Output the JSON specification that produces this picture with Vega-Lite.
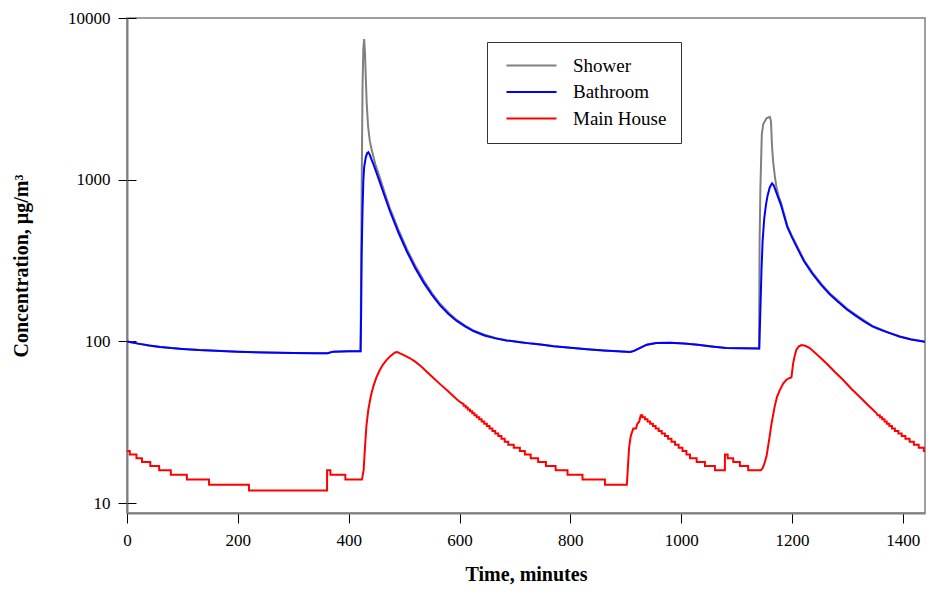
{
  "$schema": "https://vega.github.io/schema/vega-lite/v6.json",
  "width": 798,
  "height": 495,
  "autosize": {"type": "none"},
  "padding": {"left": 127, "top": 18, "right": 5, "bottom": 81},
  "background": "white",
  "config": {
    "font": "Liberation Serif",
    "view": {"stroke": "#808080", "strokeWidth": 1.5},
    "axis": {
      "grid": false,
      "labelFont": "Liberation Serif",
      "labelFontSize": 17,
      "labelColor": "#000000",
      "titleFont": "Liberation Serif",
      "titleFontSize": 20,
      "titleFontWeight": "bold",
      "titleColor": "#000000",
      "domainColor": "#808080",
      "domainWidth": 2,
      "tickColor": "#000000",
      "tickWidth": 1
    },
    "legend": {
      "labelFont": "Liberation Serif",
      "labelFontSize": 19,
      "labelColor": "#000000"
    }
  },
  "datasets": {
    "shower": [
      {"t":0,"c":100},{"t":10,"c":98.5},{"t":20,"c":97},{"t":40,"c":94.5},{"t":60,"c":92.5},{"t":80,"c":91},{"t":100,"c":90},{"t":130,"c":88.5},{"t":160,"c":87.5},{"t":200,"c":86.5},{"t":250,"c":85.5},{"t":300,"c":84.8},{"t":340,"c":84.5},{"t":362,"c":84.5},{"t":372,"c":86.5},{"t":400,"c":87},{"t":421.5,"c":87},
      {"t":422.5,"c":300},{"t":423.5,"c":900},{"t":425,"c":3700},{"t":426.5,"c":6500},{"t":428,"c":7400},{"t":429.5,"c":6000},{"t":431,"c":4200},{"t":432.5,"c":3000},{"t":435,"c":2150},{"t":438,"c":1750},{"t":441.5,"c":1530},{"t":448,"c":1250},{"t":456,"c":1040},{"t":465,"c":830},{"t":474.5,"c":665},{"t":490,"c":490},{"t":505,"c":373},{"t":520,"c":295},{"t":535,"c":240},{"t":550,"c":200},{"t":565,"c":171},{"t":580,"c":151},{"t":595,"c":136},{"t":610,"c":125.5},{"t":625,"c":117},{"t":645,"c":110},{"t":665,"c":105},{"t":685,"c":101.5},
      {"t":710,"c":99},{"t":730,"c":97},{"t":750,"c":95.5},{"t":770,"c":93.5},{"t":800,"c":91.5},{"t":830,"c":89.5},{"t":860,"c":88},{"t":885,"c":87},{"t":908,"c":86},{"t":915,"c":87.5},{"t":925,"c":91},{"t":938,"c":95.5},{"t":955,"c":97.8},{"t":980,"c":98.3},{"t":1005,"c":97.3},{"t":1030,"c":95.5},{"t":1055,"c":93.2},{"t":1081,"c":91.2},{"t":1110,"c":90.8},{"t":1140.5,"c":90.5},
      {"t":1141.5,"c":400},{"t":1143,"c":900},{"t":1145.5,"c":1900},{"t":1148,"c":2200},{"t":1154,"c":2400},{"t":1160,"c":2450},{"t":1162,"c":2300},{"t":1164,"c":1600},{"t":1166,"c":1300},{"t":1169,"c":1050},{"t":1172,"c":900},{"t":1176,"c":790},{"t":1180,"c":725},{"t":1191.6,"c":520},{"t":1200,"c":450},{"t":1210,"c":384},{"t":1222,"c":318},{"t":1237,"c":267},{"t":1253,"c":227},{"t":1268,"c":199},{"t":1284,"c":178},{"t":1299,"c":160},{"t":1314,"c":147},{"t":1330,"c":135},{"t":1345,"c":125},{"t":1360,"c":119},{"t":1375,"c":113.5},{"t":1395,"c":107.5},{"t":1415,"c":103.3},{"t":1440,"c":99.5}
    ],
    "bath": [
      {"t":0,"c":100},{"t":10,"c":98.5},{"t":20,"c":97},{"t":40,"c":94.5},{"t":60,"c":92.5},{"t":80,"c":91},{"t":100,"c":90},{"t":130,"c":88.5},{"t":160,"c":87.5},{"t":200,"c":86.5},{"t":250,"c":85.5},{"t":300,"c":84.8},{"t":340,"c":84.5},{"t":362,"c":84.5},{"t":372,"c":86.5},{"t":400,"c":87},{"t":421.5,"c":87},
      {"t":422.5,"c":150},{"t":423.5,"c":350},{"t":425,"c":650},{"t":426.5,"c":990},{"t":428,"c":1200},{"t":431,"c":1380},{"t":433.5,"c":1460},{"t":435.5,"c":1480},{"t":438,"c":1430},{"t":441,"c":1340},{"t":445,"c":1240},{"t":450,"c":1110},{"t":456,"c":970},{"t":465,"c":790},{"t":474.5,"c":640},{"t":490,"c":470},{"t":505,"c":360},{"t":520,"c":285},{"t":535,"c":232},{"t":550,"c":195},{"t":565,"c":167},{"t":580,"c":148},{"t":595,"c":134},{"t":610,"c":124},{"t":625,"c":116},{"t":645,"c":109},{"t":665,"c":104.5},{"t":685,"c":101.5},
      {"t":710,"c":99},{"t":730,"c":97},{"t":750,"c":95.5},{"t":770,"c":93.5},{"t":800,"c":91.5},{"t":830,"c":89.5},{"t":860,"c":88},{"t":885,"c":87},{"t":908,"c":86},{"t":915,"c":87.5},{"t":925,"c":91},{"t":938,"c":95.5},{"t":955,"c":97.8},{"t":980,"c":98.3},{"t":1005,"c":97.3},{"t":1030,"c":95.5},{"t":1055,"c":93.2},{"t":1081,"c":91.2},{"t":1110,"c":90.8},{"t":1141,"c":90.5},
      {"t":1143,"c":160},{"t":1145,"c":280},{"t":1147,"c":420},{"t":1150,"c":580},{"t":1153,"c":700},{"t":1156,"c":800},{"t":1160,"c":900},{"t":1164,"c":950},{"t":1167,"c":925},{"t":1172,"c":830},{"t":1180,"c":700},{"t":1191.6,"c":510},{"t":1200,"c":440},{"t":1210,"c":375},{"t":1222,"c":312},{"t":1237,"c":262},{"t":1253,"c":223},{"t":1268,"c":196},{"t":1284,"c":175},{"t":1299,"c":158},{"t":1314,"c":145},{"t":1330,"c":133},{"t":1345,"c":124},{"t":1360,"c":118},{"t":1375,"c":113},{"t":1395,"c":107},{"t":1415,"c":103},{"t":1440,"c":99.5}
    ],
    "house": [
      {"t":0,"c":21},{"t":5,"c":21},{"t":5.1,"c":20},{"t":17,"c":20},{"t":17.1,"c":19},{"t":27,"c":19},{"t":27.1,"c":18},{"t":42,"c":18},{"t":42.1,"c":17},{"t":58,"c":17},{"t":58.1,"c":16},{"t":79,"c":16},{"t":79.1,"c":15},{"t":108,"c":15},{"t":108.1,"c":14},{"t":148,"c":14},{"t":148.1,"c":13},{"t":220,"c":13},{"t":220.1,"c":12},{"t":361,"c":12},{"t":361.1,"c":16},{"t":367,"c":16},{"t":367.1,"c":15},{"t":394,"c":15},{"t":394.1,"c":14},{"t":424,"c":14},
      {"t":427,"c":16},{"t":429.4,"c":22},{"t":432,"c":30},{"t":435.4,"c":37.7},{"t":440,"c":46},{"t":444.4,"c":52.6},{"t":450,"c":60},{"t":456.5,"c":66.8},{"t":462,"c":72},{"t":468.6,"c":77},{"t":475,"c":81},{"t":483.6,"c":85.5},{"t":488,"c":86},{"t":492.6,"c":84.5},{"t":498.6,"c":82.7},{"t":510,"c":79},{"t":520,"c":75},{"t":530,"c":70.5},{"t":540,"c":65.5},{"t":553,"c":59.5},{"t":565,"c":54.5},{"t":580,"c":49},{"t":595,"c":44},{"t":602,"c":42},{"t":607.5,"c":41},
      {"t":607.6,"c":40},{"t":611.3,"c":40},{"t":611.4,"c":39},{"t":614.9,"c":39},{"t":615,"c":38},{"t":618.9,"c":38},{"t":619,"c":37},{"t":622.9,"c":37},{"t":623,"c":36},{"t":626.9,"c":36},{"t":627,"c":35},{"t":630.9,"c":35},{"t":631,"c":34},{"t":635.5,"c":34},{"t":635.6,"c":33},{"t":639.9,"c":33},{"t":640,"c":32},{"t":644.5,"c":32},{"t":644.6,"c":31},{"t":649.3,"c":31},{"t":649.4,"c":30},{"t":654.2,"c":30},{"t":654.3,"c":29},{"t":659.3,"c":29},{"t":659.4,"c":28},{"t":664.5,"c":28},{"t":664.6,"c":27},{"t":669.9,"c":27},{"t":670,"c":26},{"t":675.6,"c":26},{"t":675.7,"c":25},{"t":681.5,"c":25},{"t":681.6,"c":24},{"t":687.9,"c":24},{"t":688,"c":23},{"t":697.9,"c":23},{"t":698,"c":22},{"t":708.9,"c":22},{"t":709,"c":21},{"t":717.9,"c":21},{"t":718,"c":20},{"t":728.4,"c":20},{"t":728.5,"c":19},{"t":741.9,"c":19},{"t":742,"c":18},{"t":755.9,"c":18},{"t":756,"c":17},{"t":773.4,"c":17},{"t":773.5,"c":16},{"t":794.9,"c":16},{"t":795,"c":15},{"t":821.9,"c":15},{"t":822,"c":14},{"t":862.4,"c":14},{"t":862.5,"c":13},{"t":902,"c":13},
      {"t":904,"c":17},{"t":906,"c":22},{"t":909,"c":26},{"t":913.6,"c":29},{"t":918.5,"c":29},{"t":921,"c":31},{"t":924.4,"c":32},{"t":927,"c":35},{"t":929.9,"c":35},
      {"t":930,"c":34},{"t":934.6,"c":34},{"t":934.7,"c":33},{"t":939.3,"c":33},{"t":939.4,"c":32},{"t":943.9,"c":32},{"t":944,"c":31},{"t":948.9,"c":31},{"t":949,"c":30},{"t":953.9,"c":30},{"t":954,"c":29},{"t":959.4,"c":29},{"t":959.5,"c":28},{"t":964.9,"c":28},{"t":965,"c":27},{"t":970.6,"c":27},{"t":970.7,"c":26},{"t":976.4,"c":26},{"t":976.5,"c":25},{"t":982.5,"c":25},{"t":982.6,"c":24},{"t":988.9,"c":24},{"t":989,"c":23},{"t":995.4,"c":23},{"t":995.5,"c":22},{"t":1002.3,"c":22},{"t":1002.4,"c":21},{"t":1009.4,"c":21},{"t":1009.5,"c":20},{"t":1015.9,"c":20},{"t":1016,"c":19},{"t":1027.9,"c":19},{"t":1028,"c":18},{"t":1042.9,"c":18},{"t":1043,"c":17},{"t":1060.9,"c":17},{"t":1061,"c":16},{"t":1078.9,"c":16},{"t":1079,"c":20},{"t":1083.9,"c":20},{"t":1084,"c":19},{"t":1093.9,"c":19},{"t":1094,"c":18},{"t":1105.9,"c":18},{"t":1106,"c":17},{"t":1120.9,"c":17},{"t":1121,"c":16},{"t":1144,"c":16},
      {"t":1147,"c":16.5},{"t":1150,"c":17.5},{"t":1154,"c":19.5},{"t":1159,"c":25},{"t":1163,"c":31},{"t":1169,"c":40},{"t":1173,"c":45.5},{"t":1178,"c":50},{"t":1184,"c":55},{"t":1190,"c":58},{"t":1196,"c":59.5},{"t":1199,"c":60},{"t":1202,"c":73},{"t":1205,"c":82},{"t":1208,"c":89},{"t":1212,"c":93},{"t":1217,"c":95},{"t":1224,"c":94},{"t":1232,"c":91},{"t":1247,"c":82},{"t":1262,"c":73.4},{"t":1277,"c":65},{"t":1292,"c":58},{"t":1307,"c":51},{"t":1322,"c":45.5},{"t":1337,"c":40.5},{"t":1352.7,"c":36},
      {"t":1354.6,"c":35},{"t":1358.5,"c":35},{"t":1358.6,"c":34},{"t":1362.6,"c":34},{"t":1362.7,"c":33},{"t":1366.9,"c":33},{"t":1367,"c":32},{"t":1370.9,"c":32},{"t":1371,"c":31},{"t":1375.6,"c":31},{"t":1375.7,"c":30},{"t":1380.3,"c":30},{"t":1380.4,"c":29},{"t":1385.6,"c":29},{"t":1385.7,"c":28},{"t":1391.9,"c":28},{"t":1392,"c":27},{"t":1397.9,"c":27},{"t":1398,"c":26},{"t":1404.6,"c":26},{"t":1404.7,"c":25},{"t":1412.2,"c":25},{"t":1412.3,"c":24},{"t":1419.9,"c":24},{"t":1420,"c":23},{"t":1428.6,"c":23},{"t":1428.7,"c":22},{"t":1437.9,"c":22},{"t":1438,"c":21},{"t":1440,"c":21}
    ]
  },
  "layer": [
    {
      "data": {"name": "shower"},
      "mark": {"type": "line", "strokeWidth": 2, "clip": true},
      "encoding": {
        "x": {"field": "t", "type": "quantitative",
          "scale": {"domain": [0, 1440], "nice": false},
          "axis": {"values": [0, 200, 400, 600, 800, 1000, 1200, 1400], "format": "d", "title": "Time, minutes", "tickSize": 10, "labelPadding": 9, "titlePadding": 16, "labelFlush": false}},
        "y": {"field": "c", "type": "quantitative",
          "scale": {"type": "log", "domain": [8.7, 10000], "nice": false},
          "axis": {"orient": "left", "values": [10, 100, 1000, 10000], "format": "d", "title": "Concentration, µg/m³", "ticks": true, "tickSize": 9, "labelPadding": 8, "titlePadding": 36}},
        "color": {"datum": "Shower", "type": "nominal",
          "scale": {"domain": ["Shower", "Bathroom", "Main House"], "range": ["#808080", "#0000FF", "#FF0000"]},
          "legend": {"title": null, "orient": "none", "legendX": 360, "legendY": 24, "padding": 14, "strokeColor": "#333333", "fillColor": "white",
            "symbolType": "M-0.8,0H9.2", "symbolSize": 100, "symbolStrokeWidth": 2, "labelOffset": 53, "rowPadding": 6.5, "labelFontSize": 19}}
      }
    },
    {
      "data": {"name": "bath"},
      "mark": {"type": "line", "strokeWidth": 2, "clip": true},
      "encoding": {
        "x": {"field": "t", "type": "quantitative"},
        "y": {"field": "c", "type": "quantitative",
          "scale": {"type": "log", "domain": [8.7, 10000], "nice": false},
          "axis": {"orient": "left", "values": [10, 100, 1000, 10000], "labels": false, "domain": false, "title": null, "ticks": true, "tickSize": -9}},
        "color": {"datum": "Bathroom", "type": "nominal"}
      }
    },
    {
      "data": {"name": "house"},
      "mark": {"type": "line", "strokeWidth": 2, "clip": true},
      "encoding": {
        "x": {"field": "t", "type": "quantitative"},
        "y": {"field": "c", "type": "quantitative",
          "scale": {"type": "log", "domain": [8.7, 10000], "nice": false},
          "axis": null},
        "color": {"datum": "Main House", "type": "nominal"}
      }
    }
  ],
  "resolve": {"scale": {"y": "independent"}, "axis": {"y": "independent"}}
}
